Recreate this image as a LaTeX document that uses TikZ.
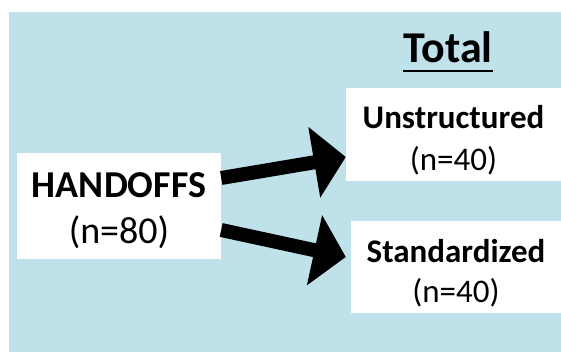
\documentclass[tikz,border=0pt]{standalone}
\usepackage{fontspec}
\setmainfont{Carlito}
\usetikzlibrary{arrows.meta}
\definecolor{panelblue}{HTML}{BFE1EA}

\begin{document}
\begin{tikzpicture}[x=1pt,y=1pt,
    box/.style={fill=white, inner sep=0pt},
    lab/.style={inner sep=0pt, align=center},
    bigarrow/.style={line width=14pt, -{Triangle[length=32pt,width=70pt]}}]
       % background
       \useasboundingbox (0,0) rectangle (561,352);
       \fill[panelblue] (9,0) rectangle (561,340);
       % boxes
       \node[box, minimum width=204pt, minimum height=106pt] (hand) at (119,146) {};
       \node[box, minimum width=215pt, minimum height=93pt] (unstr) at (453.5,217.5) {};
       \node[box, minimum width=210pt, minimum height=92pt] (stand) at (456,85) {};
       % texts
       \node[lab, font=\fontsize{38}{46}\selectfont] (handtxt) at ([yshift=-5pt]hand.center) {\textbf{HANDOFFS}\\(n=80)};
       \node[lab, font=\fontsize{33}{42}\selectfont] (unstrtxt) at ([yshift=-6pt]unstr.center) {\textbf{Unstructured}\\(n=40)};
       \node[lab, font=\fontsize{33}{40}\selectfont] (standtxt) at ([yshift=-6pt]stand.center) {\textbf{Standardized}\\(n=40)};
       % heading
       \node[inner sep=0pt, anchor=base, font=\fontsize{44}{52}\selectfont\bfseries] (total) at (448,289) {Total};
       \draw[line width=2.5pt] ([yshift=-8pt]total.base west) -- ([yshift=-8pt]total.base east);
       % arrows
       \draw[bigarrow] ([yshift=28pt]hand.east) -- ([yshift=-22.5pt]unstr.west);
       \draw[bigarrow] ([yshift=-24pt]hand.east) -- ([xshift=-5pt,yshift=10pt]stand.west);
\end{tikzpicture}
\end{document}
